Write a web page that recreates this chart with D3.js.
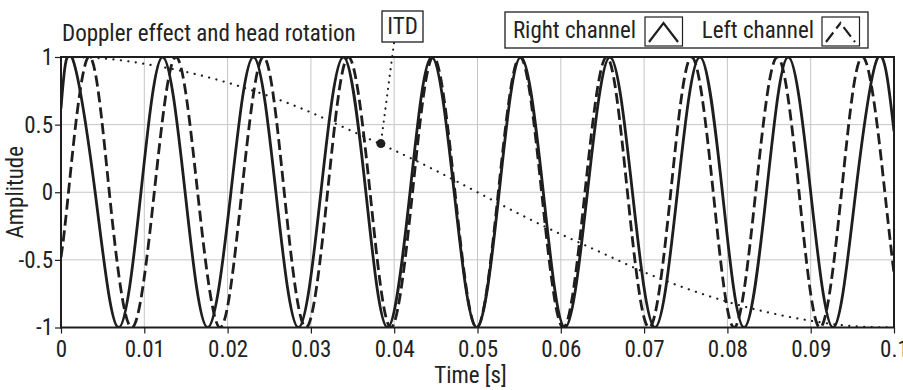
<!DOCTYPE html>
<html>
<head>
<meta charset="utf-8">
<script src="https://cdnjs.cloudflare.com/ajax/libs/d3/7.8.5/d3.min.js"></script>
<style>
    body { margin: 0; background: #fff; }
    svg text { font-family: "Liberation Sans Narrow", "Arial Narrow", "Roboto Condensed", sans-serif; fill: #222; }
</style>
</head>
<body>
<div id="content"></div>
<script>
// ======= data =======
var timeTicks = [0, 0.01, 0.02, 0.03, 0.04, 0.05, 0.06, 0.07, 0.08, 0.09, 0.1];
var timeLabels = ["0", "0.01", "0.02", "0.03", "0.04", "0.05", "0.06", "0.07", "0.08", "0.09", "0.1"];
var ampTicks = [1, 0.5, 0, -0.5, -1];
var ampLabels = ["1", "0.5", "0", "-0.5", "-1"];

// right channel (solid): start, extrema and zero crossings
var rightTimes = [0, 0.0013, 0.0041, 0.0069, 0.0096, 0.0122, 0.0149, 0.0176, 0.0204, 0.0231, 0.0258,
    0.0285, 0.0312, 0.0339, 0.0366, 0.0392, 0.0419, 0.0445, 0.0472, 0.0499, 0.0526, 0.0552, 0.0579,
    0.0605, 0.0632, 0.0659, 0.0686, 0.0713, 0.0740, 0.0767, 0.0794, 0.0820, 0.0847, 0.0873, 0.0900,
    0.0927, 0.0954, 0.0981, 0.1];
var rightValues = [0.62, 1, 0, -1, 0, 1, 0, -1, 0, 1, 0,
    -1, 0, 1, 0, -1, 0, 1, 0, -1, 0, 1, 0,
    -1, 0, 1, 0, -1, 0, 1, 0, -1, 0, 1, 0,
    -1, 0, 1, 0.45];

// left channel (dashed)
var leftTimes = [0, 0.0009, 0.0033, 0.0058, 0.0085, 0.0112, 0.0138, 0.0164, 0.0191, 0.0217, 0.0243,
    0.0268, 0.0294, 0.0320, 0.0345, 0.0371, 0.0396, 0.0422, 0.0447, 0.0473, 0.0499, 0.0525, 0.0551,
    0.0577, 0.0603, 0.0629, 0.0655, 0.0680, 0.0706, 0.0732, 0.0757, 0.0783, 0.0808, 0.0834, 0.0860,
    0.0886, 0.0911, 0.0937, 0.0963, 0.0989, 0.1];
var leftValues = [-0.48, 0, 1, 0, -1, 0, 1, 0, -1, 0, 1,
    0, -1, 0, 1, 0, -1, 0, 1, 0, -1, 0, 1,
    0, -1, 0, 1, 0, -1, 0, 1, 0, -1, 0, 1,
    0, -1, 0, 1, 0, -0.6];

// ITD curve (dotted)
var itdTimes = [0, 0.005, 0.01, 0.015, 0.02, 0.025, 0.03, 0.035, 0.04, 0.045, 0.05,
    0.055, 0.06, 0.065, 0.07, 0.075, 0.08, 0.085, 0.09, 0.095, 0.1];
var itdValues = [1, 0.99, 0.95, 0.89, 0.81, 0.71, 0.59, 0.45, 0.31, 0.16, 0,
    -0.16, -0.31, -0.45, -0.59, -0.71, -0.81, -0.89, -0.95, -0.99, -1];
var itdMarker = [0.0384, 0.36];

var legendNames = ["Right channel", "Left channel"];

// ======= formatting =======
var ink = "#1e1e1e";
var margin = {top: 57, right: 9, bottom: 62.5, left: 61};
var width = 903 - margin.left - margin.right;
var height = 390 - margin.top - margin.bottom;
var fontSize = "23px";

// ======= scales =======
var xScale = d3.scaleLinear().domain([0, 0.1]).range([0, width]);
var yScale = d3.scaleLinear().domain([-1, 1]).range([height, 0]);

// ======= elements =======
var svg = d3.select("#content")
    .append("svg")
        .attr("width", 903)
        .attr("height", 390);
var chart = svg.append("g")
    .attr("transform", "translate(" + margin.left + "," + margin.top + ")");

chart.append("clipPath")
    .attr("id", "plotClip")
    .append("rect")
        .attr("width", width)
        .attr("height", height);

// ======= grid =======
chart.append("g")
    .selectAll("line")
    .data(timeTicks.slice(1, -1))
    .enter()
    .append("line")
        .attr("x1", function(d) { return xScale(d); })
        .attr("x2", function(d) { return xScale(d); })
        .attr("y1", 0)
        .attr("y2", height)
        .style("stroke", "#c6c6c6")
        .style("stroke-width", 1);
chart.append("g")
    .selectAll("line")
    .data(ampTicks.slice(1, -1))
    .enter()
    .append("line")
        .attr("x1", 0)
        .attr("x2", width)
        .attr("y1", function(d) { return yScale(d); })
        .attr("y2", function(d) { return yScale(d); })
        .style("stroke", "#c6c6c6")
        .style("stroke-width", 1);

// ======= curves =======
function makeLine(times) {
    return d3.line()
        .x(function(d, i) { return xScale(times[i]); })
        .y(function(d) { return yScale(d); })
        .curve(d3.curveNatural);
}

var curves = chart.append("g").attr("clip-path", "url(#plotClip)");

curves.append("path")
    .datum(itdValues)
    .attr("d", makeLine(itdTimes))
    .style("fill", "none")
    .style("stroke", ink)
    .style("stroke-width", 2.2)
    .style("stroke-linecap", "round")
    .style("stroke-dasharray", "0.1,7.4");

curves.append("path")
    .datum(leftValues)
    .attr("d", makeLine(leftTimes))
    .style("fill", "none")
    .style("stroke", ink)
    .style("stroke-width", 2.8)
    .style("stroke-dasharray", "11,5");

curves.append("path")
    .datum(rightValues)
    .attr("d", makeLine(rightTimes))
    .style("fill", "none")
    .style("stroke", ink)
    .style("stroke-width", 2.8);

// ======= axes =======
var yAxis = chart.append("g")
    .call(d3.axisLeft(yScale)
        .tickValues(ampTicks)
        .tickSize(6)
        .tickPadding(2)
        .tickFormat(function(d, i) { return ampLabels[i]; }));
var xAxis = chart.append("g")
    .attr("transform", "translate(0," + height + ")")
    .call(d3.axisBottom(xScale)
        .tickValues(timeTicks)
        .tickSize(6)
        .tickPadding(7)
        .tickFormat(function(d, i) { return timeLabels[i]; }));
[xAxis, yAxis].forEach(function(ax) {
    ax.select(".domain").remove();
    ax.selectAll("line").style("stroke", ink).style("stroke-width", 1.2);
    ax.selectAll("text").style("font-size", fontSize).attr("fill", ink);
});

// frame
chart.append("rect")
    .attr("width", width)
    .attr("height", height)
    .style("fill", "none")
    .style("stroke", ink)
    .style("stroke-width", 2);

// ======= labels =======
svg.append("text")
    .attr("x", 62)
    .attr("y", 41)
    .style("font-size", fontSize)
    .text("Doppler effect and head rotation");

svg.append("text")
    .attr("transform", "translate(23," + (margin.top + height / 2) + ") rotate(-90)")
    .attr("text-anchor", "middle")
    .style("font-size", fontSize)
    .text("Amplitude");

svg.append("text")
    .attr("x", margin.left + width / 2 - 7)
    .attr("y", 383)
    .attr("text-anchor", "middle")
    .style("font-size", fontSize)
    .text("Time [s]");

// ======= ITD annotation =======
var markX = margin.left + xScale(itdMarker[0]);
var markY = margin.top + yScale(itdMarker[1]);
svg.append("line")
    .attr("x1", 394)
    .attr("y1", 43)
    .attr("x2", markX)
    .attr("y2", markY)
    .style("stroke", ink)
    .style("stroke-width", 2.2)
    .style("stroke-linecap", "round")
    .style("stroke-dasharray", "0.1,6.5");
svg.append("circle")
    .attr("cx", markX)
    .attr("cy", markY)
    .attr("r", 4.5)
    .style("fill", ink);
svg.append("rect")
    .attr("x", 382)
    .attr("y", 11)
    .attr("width", 41)
    .attr("height", 31)
    .style("fill", "#fff")
    .style("stroke", ink)
    .style("stroke-width", 1.3);
svg.append("text")
    .attr("x", 402.5)
    .attr("y", 33.5)
    .attr("text-anchor", "middle")
    .style("font-size", fontSize)
    .text("ITD");

// ======= legend =======
var legend = svg.append("g");
legend.append("rect")
    .attr("x", 505)
    .attr("y", 12)
    .attr("width", 363)
    .attr("height", 36)
    .style("fill", "#fff")
    .style("stroke", ink)
    .style("stroke-width", 1.3);

var legendTextEnd = [636, 814];
var legendIconX = [645, 822];
legendNames.forEach(function(name, i) {
    legend.append("text")
        .attr("x", legendTextEnd[i])
        .attr("y", 37.5)
        .attr("text-anchor", "end")
        .style("font-size", fontSize)
        .text(name);
    var icon = legend.append("g")
        .attr("transform", "translate(" + legendIconX[i] + ",17)");
    icon.append("rect")
        .attr("width", 37.5)
        .attr("height", 29)
        .style("fill", "#fff")
        .style("stroke", ink)
        .style("stroke-width", 1.2);
    icon.append("path")
        .attr("d", "M4,25L18.5,6L33,25")
        .style("fill", "none")
        .style("stroke", ink)
        .style("stroke-width", 2.2)
        .style("stroke-dasharray", i == 0 ? null : "12,5,7,5");
});
</script>
</body>
</html>
